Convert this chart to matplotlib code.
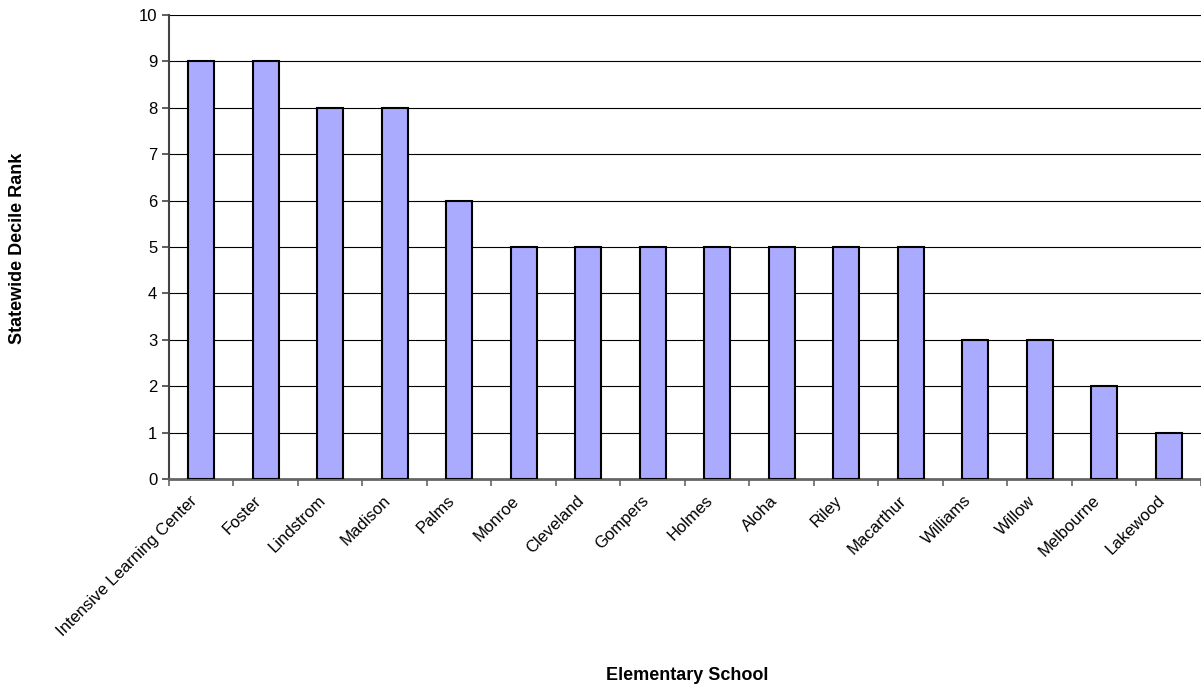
import matplotlib.pyplot as plt
from matplotlib.transforms import ScaledTranslation

# Dados do gráfico
schools = ["Intensive Learning Center", "Foster", "Lindstrom", "Madison", "Palms",
           "Monroe", "Cleveland", "Gompers", "Holmes", "Aloha", "Riley", "Macarthur",
           "Williams", "Willow", "Melbourne", "Lakewood"]
ranks = [9, 9, 8, 8, 6, 5, 5, 5, 5, 5, 5, 5, 3, 3, 2, 1]
yticks = list(range(0, 11))

plt.rcParams['font.family'] = ['Liberation Sans', 'DejaVu Sans']

fig = plt.figure(figsize=(12.01, 6.87), dpi=100)
ax = fig.add_axes([0.1407, 0.3028, 0.8593, 0.6754])

pos = range(len(schools))
ax.bar(pos, ranks, width=0.4, color="#AAAAFF", edgecolor="black", linewidth=1.5, zorder=3)

ax.set_xlim(-0.5, len(schools) - 0.5)
ax.set_ylim(0, 10)
ax.set_yticks(yticks)
ax.set_yticklabels([str(v) for v in yticks], fontsize=12)

# ticks do eixo x nas divisões
ax.set_xticks([i - 0.5 for i in range(len(schools) + 1)])
ax.set_xticklabels([])
ax.tick_params(axis="x", which="major", length=5, color="#666666", width=1.2)
ax.tick_params(axis="y", length=5, color="#444444", width=1.2)

# rótulos das escolas, girados 45 graus
offset = ScaledTranslation(-12 / 100, -14 / 100, fig.dpi_scale_trans)
for i, name in enumerate(schools):
    ax.text(i, 0, name, transform=ax.get_xaxis_transform() + offset,
            rotation=45, ha="right", va="top", rotation_mode="anchor", fontsize=12)

ax.grid(True, axis="y", color="black", linewidth=0.8, zorder=0)

ax.spines["top"].set_visible(False)
ax.spines["right"].set_visible(False)
ax.spines["left"].set_color("#444444")
ax.spines["left"].set_linewidth(1.5)
ax.spines["bottom"].set_color("#666666")
ax.spines["bottom"].set_linewidth(2)

fig.text(687 / 1201, 1 - 675 / 687, "Elementary School", ha="center", va="center",
         fontsize=13, fontweight="bold")
fig.text(18 / 1201, 1 - 248 / 687, "Statewide Decile Rank", ha="center", va="center",
         rotation=90, fontsize=13, fontweight="bold")

fig.savefig("out.png", dpi=100)
